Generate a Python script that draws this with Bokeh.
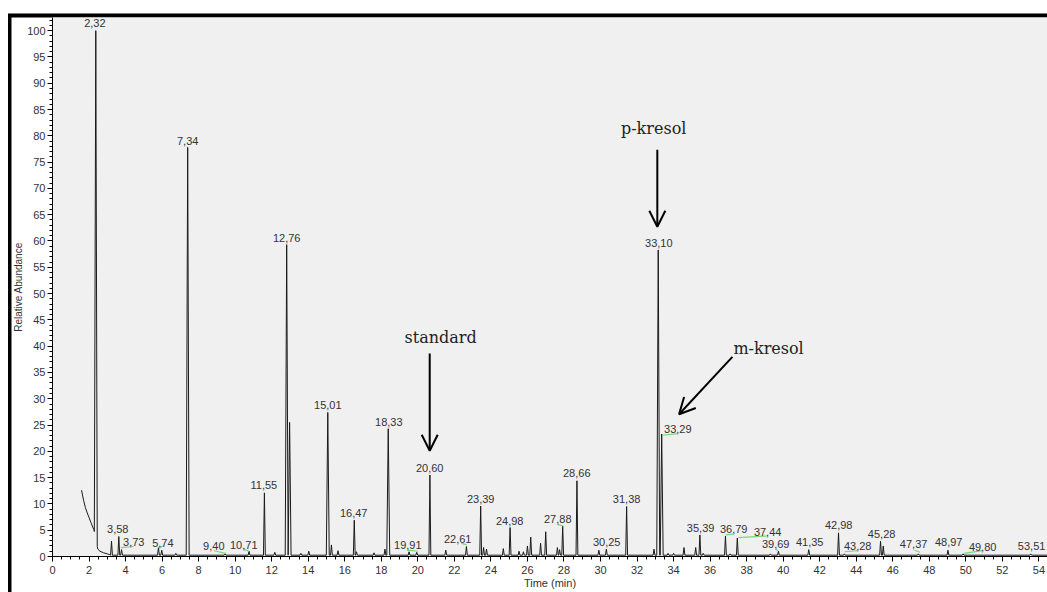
import numpy as np
from bokeh.plotting import figure
from bokeh.models import Range1d, SingleIntervalTicker, Arrow, OpenHead
from bokeh.core.properties import value
from bokeh.embed import file_html
from bokeh.resources import INLINE

# ---------------- data ----------------
# early decaying signal before the first big peak (time, abundance)
early_t = [1.59, 1.7, 1.8, 1.9, 2.0, 2.1, 2.2, 2.27, 2.48, 2.6, 2.8, 3.0, 3.1]
early_v = [12.6, 10.7, 9.3, 8.3, 7.4, 6.5, 5.6, 5.1, 1.4, 1.0, 0.7, 0.5, 0.4]
base_level = 0.25
end_time = 54.47

# peaks of the chromatogram (apex time, apex abundance)
peak_t = [2.37, 3.23, 3.63, 3.78, 5.80, 5.98, 6.75, 7.40, 9.45, 10.76, 11.60, 12.17,
          12.82, 12.98, 13.60, 14.03, 15.07, 15.27, 15.63, 16.52, 16.64, 17.60, 18.20,
          18.38, 19.52, 19.94, 20.66, 21.53, 22.66, 23.44, 23.60, 23.76, 24.68, 25.05,
          25.54, 25.78, 26.00, 26.18, 26.72, 27.00, 27.64, 27.76, 27.93, 28.71, 29.91,
          30.32, 31.43, 32.93, 33.16, 33.35, 33.70, 34.00, 34.57, 35.21, 35.44, 35.62,
          36.84, 37.10, 37.49, 39.30, 39.74, 41.40, 43.03, 43.35, 45.33, 45.48, 47.40,
          49.02, 49.85, 53.55]
peak_h = [100, 2.9, 3.8, 1.3, 1.7, 1.2, 0.6, 77.8, 0.5, 1.0, 12.1, 0.8,
          59.3, 25.5, 0.6, 1.0, 27.4, 2.2, 1.1, 6.9, 0.9, 0.7, 1.4,
          24.3, 0.9, 0.8, 15.5, 1.2, 1.9, 9.6, 1.7, 1.4, 1.5, 5.5,
          1.0, 0.9, 2.0, 3.7, 2.5, 4.7, 1.7, 1.3, 5.8, 14.4, 1.2,
          1.4, 9.5, 1.4, 58.3, 23.3, 0.6, 0.6, 1.7, 1.7, 4.1, 0.6,
          3.9, 0.5, 3.5, 0.5, 1.0, 1.3, 4.5, 0.5, 2.9, 2.0, 0.5,
          1.2, 0.5, 0.5]

# retention-time labels and where they are written
peak_labels = ["2,32", "3,58", "3,73", "5,74", "7,34", "9,40", "10,71", "11,55", "12,76",
               "15,01", "16,47", "18,33", "19,91", "20,60", "22,61", "23,39", "24,98",
               "27,88", "28,66", "30,25", "31,38", "33,10", "33,29", "35,39", "36,79",
               "37,44", "39,69", "41,35", "42,98", "43,28", "45,28", "47,37", "48,97",
               "49,80", "53,51"]
label_t = [2.32, 3.57, 4.45, 6.04, 7.40, 8.83, 10.47, 11.57, 12.82,
           15.07, 16.49, 18.41, 19.45, 20.65, 22.18, 23.44, 25.03,
           27.66, 28.70, 30.34, 31.43, 33.19, 34.23, 35.48, 37.29,
           39.15, 39.59, 41.45, 43.04, 44.08, 45.39, 47.14, 49.06,
           50.92, 53.60]
label_v = [101.5, 5.23, 2.76, 2.57, 79.07, 2.0, 2.19, 13.6, 60.6,
           28.8, 8.28, 25.6, 2.19, 16.84, 3.33, 10.94, 6.76,
           7.14, 15.9, 2.76, 10.94, 59.66, 24.26, 5.42, 5.23,
           4.66, 2.38, 2.76, 5.99, 2.0, 4.28, 2.38, 2.76,
           1.81, 2.0]

# green integration baseline markers
green_t0 = [3.74, 5.78, 8.83, 10.45, 19.43, 22.39, 27.64, 33.39, 36.85, 37.55, 39.59, 43.37, 47.20, 49.90]
green_v0 = [1.7, 1.7, 1.1, 1.4, 1.2, 2.5, 6.1, 23.06, 4.1, 3.6, 1.4, 0.9, 1.2, 0.6]
green_t1 = [4.45, 6.05, 9.49, 10.76, 20.01, 22.68, 27.97, 34.21, 37.27, 39.14, 39.72, 44.06, 47.49, 50.90]
green_v1 = [1.9, 2.0, 0.6, 1.0, 1.0, 2.2, 5.8, 23.36, 4.25, 3.9, 1.1, 1.1, 0.8, 1.1]

# compound annotations
note_text = ["p-kresol", "standard", "m-kresol"]
note_t = [32.91, 21.25, 39.20]
note_v = [81.35, 41.7, 39.5]
arrow_t0 = [33.11, 20.65, 37.22]
arrow_v0 = [77.35, 38.6, 37.96]
arrow_t1 = [33.11, 20.65, 34.30]
arrow_v1 = [62.7, 20.1, 27.06]

# ---------------- build trace ----------------
verts = list(zip(early_t, early_v))
for t, h in zip(peak_t, peak_h):
    hw = 0.08 if h > 20 else 0.05
    for tt, vv in ((t - hw, None), (t, h), (t + hw, None)):
        if vv is None:
            vv = float(np.interp(tt, early_t, early_v, right=base_level))
        verts.append((tt, vv))
verts.append((end_time, base_level))
verts.sort(key=lambda a: a[0])
trace_t = [a[0] for a in verts]
trace_v = [a[1] for a in verts]

# ---------------- figure ----------------
p = figure(width=1047, height=592, x_range=Range1d(0, end_time), y_range=Range1d(0, 102.5),
           output_backend="svg", toolbar_location=None,
           min_border_left=52, min_border_right=0, min_border_top=17, min_border_bottom=36)
p.background_fill_color = "#f0f0f0"
p.border_fill_color = None
p.outline_line_color = None
p.xgrid.grid_line_color = None
p.ygrid.grid_line_color = None
# black window edges (left and top) painted behind the transparent border area
p.styles = {
    "background-color": "white",
    "background-image": "linear-gradient(#000, #000), linear-gradient(#000, #000), linear-gradient(#777, #777)",
    "background-size": "3.5px 580px, 1040px 3.5px, 1040px 1px",
    "background-position": "7.5px 13.5px, 7.5px 13.5px, 7.5px 12.5px",
    "background-repeat": "no-repeat",
}

p.xaxis.ticker = SingleIntervalTicker(interval=2, num_minor_ticks=4)
p.yaxis.ticker = SingleIntervalTicker(interval=5, num_minor_ticks=5)
for ax in (p.xaxis[0], p.yaxis[0]):
    ax.axis_line_color = "black"
    ax.major_tick_line_color = "black"
    ax.minor_tick_line_color = "black"
    ax.major_tick_in = 0
    ax.minor_tick_in = 0
    ax.major_tick_out = 5
    ax.minor_tick_out = 3
    ax.major_label_text_font = "Liberation Sans"
    ax.major_label_text_font_size = "11px"
    ax.major_label_text_color = "#333333"
    ax.axis_label_text_font = "Liberation Sans"
    ax.axis_label_text_font_style = "normal"
    ax.axis_label_text_color = "#333333"
p.xaxis.axis_label = "Time (min)"
p.xaxis.axis_label_text_font_size = "11px"
p.xaxis.major_label_standoff = 4
p.xaxis.axis_label_standoff = 0
p.yaxis.axis_label = "Relative Abundance"
p.yaxis.axis_label_text_font_size = "10px"
p.yaxis.major_label_standoff = 2
p.yaxis.axis_label_standoff = 0

p.line(trace_t, trace_v, line_color="#1a1a1a", line_width=1)
p.segment(x0=green_t0, y0=green_v0, x1=green_t1, y1=green_v1, line_color="#77d877", line_width=1.2)
p.text(x=label_t, y=label_v, text=peak_labels, text_align="center", text_baseline="middle",
       text_font=value("Liberation Sans"), text_font_size="11px", text_color="#333333")
p.text(x=note_t, y=note_v, text=note_text, text_align="center", text_baseline="middle",
       text_font=value("DejaVu Serif"), text_font_size="16px", text_color="#222222")
for x0, y0, x1, y1 in zip(arrow_t0, arrow_v0, arrow_t1, arrow_v1):
    p.add_layout(Arrow(end=OpenHead(size=16, line_width=2, line_color="black"),
                       x_start=x0, y_start=y0, x_end=x1, y_end=y1,
                       line_width=2, line_color="black"))

open("out.html", "w").write(file_html(p, INLINE))
